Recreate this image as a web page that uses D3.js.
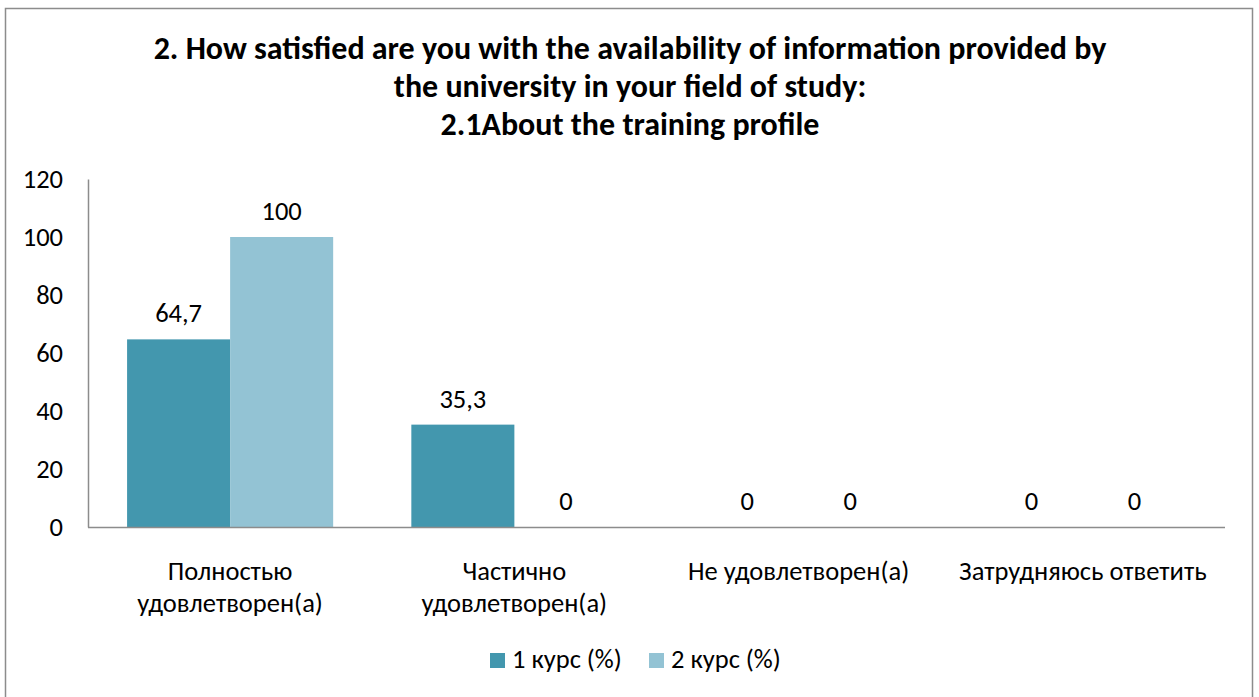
<!DOCTYPE html>
<html>
  <head>
    <script src="https://cdn.jsdelivr.net/npm/d3@7"></script>
<style>
  body {
      margin: 0;
      background: #fff;
  }
  text {
      font-family: Carlito, Calibri, Lato, sans-serif;
      fill: #000;
  }
</style>
  </head>
  <body>
    <div id="vis"></div>
    <script type="text/javascript">

      const w = 1259;
      const h = 697;

      const titleLines = [
          "2. How satisfied are you with the availability of information provided by",
          "the university in your field of study:",
          "2.1About the training profile"
      ];
      const categories = [
          ["Полностью", "удовлетворен(а)"],
          ["Частично", "удовлетворен(а)"],
          ["Не удовлетворен(а)"],
          ["Затрудняюсь ответить"]
      ];
      const seriesNames = ["1 курс (%)", "2 курс (%)"];
      const course1 = [64.7, 35.3, 0, 0];
      const course2 = [100, 0, 0, 0];
      const colors = ["#4397ae", "#93c3d4"];
      const yTicks = [0, 20, 40, 60, 80, 100, 120];

      const fs = 26.5;

      const svg = d3.select("#vis")
          .append("svg")
          .attr("width", w)
          .attr("height", h);

      // chart border (open at the bottom, as in the source)
      svg.append("path")
          .attr("d", "M5.5," + h + "V8.5H1252.5V" + h)
          .attr("fill", "none")
          .attr("stroke", "#8c8c8c")
          .attr("stroke-width", 1.5);

      svg.append("g")
          .selectAll("text")
          .data(titleLines)
          .join("text")
          .attr("x", 630)
          .attr("y", (d, i) => 59 + i * 38)
          .attr("text-anchor", "middle")
          .attr("font-size", 32)
          .attr("font-weight", "bold")
          .text(d => d);

      const x0 = d3.scaleBand()
          .domain(d3.range(categories.length))
          .range([88, 1225])
          .paddingInner(0.275)
          .paddingOuter(0.1375);
      const x1 = d3.scaleBand()
          .domain([0, 1])
          .range([0, x0.bandwidth()]);
      const y = d3.scaleLinear().domain([0, 120]).range([527, 179]);

      // y axis
      const yAxis = svg.append("g")
          .attr("transform", "translate(88,0)")
          .call(d3.axisLeft(y).tickValues(yTicks).tickSize(0).tickPadding(25));
      yAxis.select(".domain").attr("stroke", "#8c8c8c").attr("stroke-width", 1.5);
      yAxis.selectAll("text").attr("font-size", fs).attr("font-family", null);

      const data = categories.map((c, i) => [course1[i], course2[i]]);

      const groups = svg.append("g")
          .selectAll("g")
          .data(data)
          .join("g")
          .attr("transform", (d, i) => "translate(" + x0(i) + ",0)");
      groups.selectAll("rect")
          .data(d => d)
          .join("rect")
          .attr("x", (d, j) => x1(j))
          .attr("y", d => y(d))
          .attr("width", x1.bandwidth())
          .attr("height", d => y(0) - y(d))
          .attr("fill", (d, j) => colors[j]);
      groups.selectAll("text")
          .data(d => d)
          .join("text")
          .attr("x", (d, j) => x1(j) + x1.bandwidth() / 2)
          .attr("y", d => y(d) - 17)
          .attr("text-anchor", "middle")
          .attr("font-size", fs)
          .text(d => String(d).replace(".", ","));

      // x axis line
      svg.append("line")
          .attr("x1", 88)
          .attr("x2", 1225)
          .attr("y1", y(0) + 0.5)
          .attr("y2", y(0) + 0.5)
          .attr("stroke", "#8c8c8c")
          .attr("stroke-width", 1.5);

      svg.append("g")
          .selectAll("text")
          .data(categories)
          .join("text")
          .attr("x", (d, i) => x0(i) + x0.bandwidth() / 2)
          .attr("y", 580)
          .attr("text-anchor", "middle")
          .attr("font-size", fs)
          .selectAll("tspan")
          .data(d => d)
          .join("tspan")
          .attr("x", function() { return this.parentNode.getAttribute("x"); })
          .attr("dy", (d, i) => i === 0 ? 0 : 32)
          .text(d => d);

      // legend
      const legend = svg.append("g")
          .selectAll("g")
          .data(seriesNames)
          .join("g")
          .attr("transform", (d, i) => "translate(" + (490 + i * 159) + ",653)");
      legend.append("rect")
          .attr("width", 15)
          .attr("height", 15)
          .attr("fill", (d, i) => colors[i]);
      legend.append("text")
          .attr("x", 22)
          .attr("y", 15)
          .attr("font-size", fs)
          .text(d => d);

    </script>
  </body>
</html>
